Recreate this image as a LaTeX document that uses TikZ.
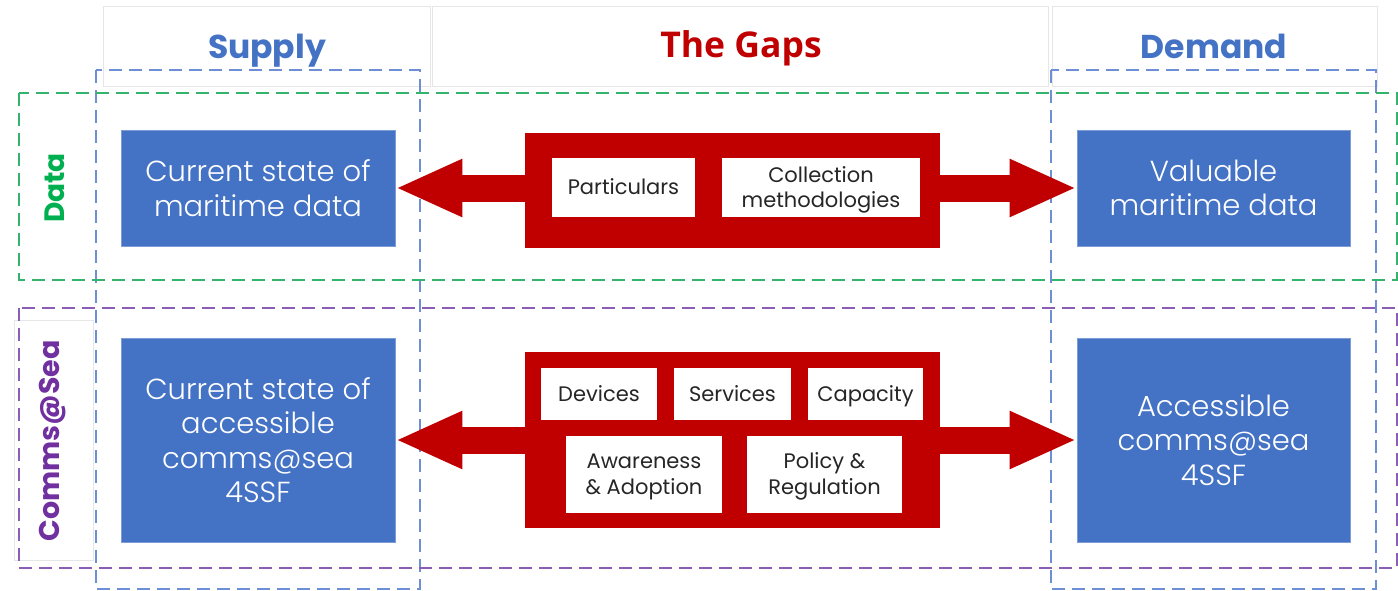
\documentclass[tikz,border=0pt]{standalone}
\usepackage{fontspec}
\setmainfont{Poppins}
\newfontfamily\poplight{Poppins}[UprightFont=* Light]
\newfontfamily\gapsfont{Open Sans}
\usetikzlibrary{arrows.meta}
\definecolor{boxblue}{HTML}{4472C4}
\definecolor{gapred}{HTML}{C00000}
\definecolor{dashblue}{HTML}{6E8FD6}
\definecolor{dashgreen}{HTML}{33B36B}
\definecolor{dashpurple}{HTML}{8B5DB5}
\definecolor{datagreen}{HTML}{00B050}
\definecolor{commspurple}{HTML}{7030A0}
\definecolor{hdrgray}{HTML}{E6E6E6}
\definecolor{txtdark}{HTML}{262626}
\begin{document}
\begin{tikzpicture}[x=1pt,y=-1pt,
  hdrbox/.style={draw=hdrgray, line width=0.8pt, fill=white, inner sep=0pt},
  hdrtext/.style={anchor=base, inner sep=0pt, font=\fontsize{33}{36}\selectfont\bfseries},
  dashbase/.style={dash pattern=on 13pt off 7pt, line width=2pt},
  bluedash/.style={dashbase, draw=dashblue},
  greendash/.style={dashbase, draw=dashgreen},
  purpledash/.style={dashbase, draw=dashpurple},
  bluebox/.style={fill=boxblue, draw=boxblue!70!white, line width=0.6pt, text=white, align=center, inner sep=0pt,
    font=\poplight\fontsize{29}{34.5}\selectfont},
  redblock/.style={fill=gapred, draw=none, inner sep=0pt},
  whitebox/.style={fill=white, draw=none, text=txtdark, align=center, inner sep=0pt,
    font=\fontsize{21}{25}\selectfont},
  twoline/.style={font=\fontsize{21}{26}\selectfont},
  oneline/.style={text height=17pt, text depth=2.5pt},
  gaparrow/.style={draw=gapred, line width=27pt, -{Triangle[width=53pt,length=67pt]}}
]
\useasboundingbox (0,0) rectangle (1398,590);
\fill[white] (0,0) rectangle (1398,590);

% headers
\node[hdrbox, minimum width=327pt, minimum height=80pt] (hsup) at (266.5,46) {};
\node[hdrbox, minimum width=616pt, minimum height=80pt] (hgap) at (740,46) {};
\node[hdrbox, minimum width=325pt, minimum height=80pt] (hdem) at (1214.5,46) {};
\node[hdrtext, text=boxblue] (tsup) at (267,58) {Supply};
\node[hdrtext, text=gapred, font=\gapsfont\fontsize{35.5}{38}\selectfont\bfseries] (tgap) at (741,57.5) {The Gaps};
\node[hdrtext, text=boxblue] (tdem) at (1214,58) {Demand};

% comms label frame
\draw[hdrgray, line width=0.8pt] (14,320) rectangle (93,560);

% dashed frames
\draw[bluedash] (96,70) rectangle (420,589);
\draw[bluedash] (1051,70) rectangle (1376,589);
\draw[greendash] (19,93) rectangle (1397,280);
\draw[purpledash] (19,308) rectangle (1397,568);

% row labels
\node[rotate=90, text=datagreen, font=\fontsize{28}{30}\selectfont\bfseries] (ldata) at (55,188) {Data};
\node[rotate=90, text=commspurple, font=\fontsize{28.5}{30}\selectfont\bfseries] (lcomms) at (53,441) {Comms@Sea};

% blue boxes
\node[bluebox, minimum width=274pt, minimum height=116pt] (sd) at (258,188) {Current state of\\maritime data};
\node[bluebox, minimum width=274pt, minimum height=204pt] (sc) at (258,440) {Current state of\\accessible\\comms@sea\\4SSF};
\node[bluebox, minimum width=273pt, minimum height=116pt] (vd) at (1213.5,188) {Valuable\\maritime data};
\node[bluebox, minimum width=273pt, minimum height=204pt] (vc) at (1213.5,440) {Accessible\\comms@sea\\4SSF};

% gap blocks
\node[redblock, minimum width=415pt, minimum height=115pt] (gd) at (732.5,190.5) {};
\node[redblock, minimum width=415pt, minimum height=176pt] (gc) at (732.5,440) {};

% arrows
\draw[gaparrow] (gd.west |- sd.east) -- (sd.east);
\draw[gaparrow] (gd.east |- vd.west) -- (vd.west);
\draw[gaparrow] (gc.west |- sc.east) -- (sc.east);
\draw[gaparrow] (gc.east |- vc.west) -- (vc.west);

% white boxes
\node[whitebox, oneline, minimum width=143pt, minimum height=59pt] (wpart) at (623.5,187.5) {Particulars};
\node[whitebox, minimum width=198pt, minimum height=59pt] (wcoll) at (821,187.5) {\rule{0pt}{21pt}Collection\\methodologies};
\node[whitebox, oneline, minimum width=116pt, minimum height=52pt] (wdev) at (599,394) {Devices};
\node[whitebox, oneline, minimum width=117pt, minimum height=52pt] (wserv) at (732.5,394) {Services};
\node[whitebox, oneline, minimum width=115pt, minimum height=52pt] (wcap) at (865.5,394) {Capacity};
\node[whitebox, twoline, minimum width=156pt, minimum height=77pt] (waw) at (644,474.5) {\rule{0pt}{20pt}Awareness\\\& Adoption};
\node[whitebox, twoline, minimum width=155pt, minimum height=77pt] (wpol) at (824.5,474.5) {\rule{0pt}{20pt}Policy \&\\Regulation};
\end{tikzpicture}
\end{document}
